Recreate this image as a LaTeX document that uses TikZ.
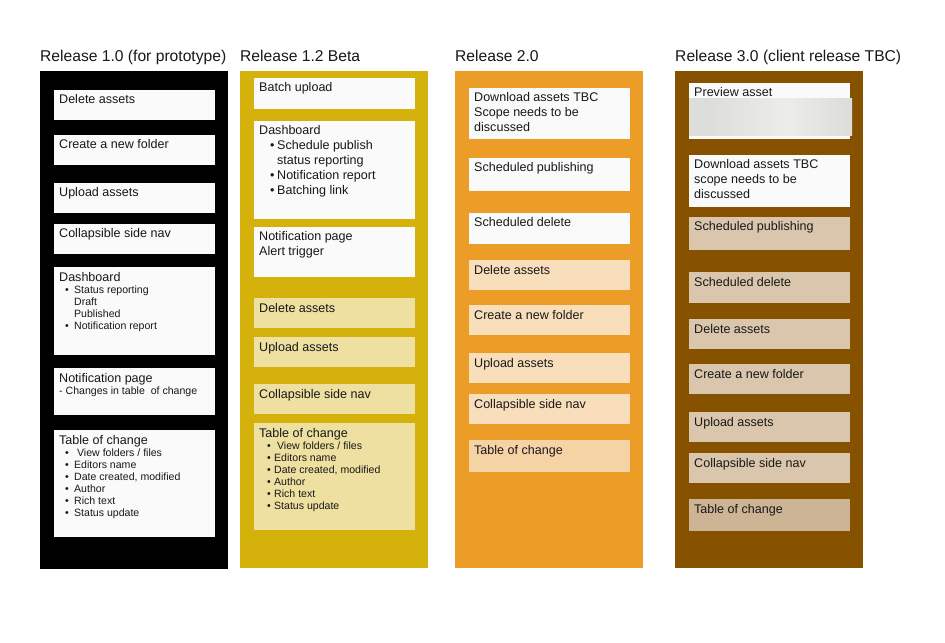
\documentclass[tikz,border=0pt]{standalone}
\usepackage{fontspec}
\setmainfont{Liberation Sans}
\definecolor{cardw}{HTML}{FAFAFA}
\definecolor{goldc}{HTML}{D5B10C}
\definecolor{goldl}{HTML}{EEE0A0}
\definecolor{orangec}{HTML}{EC9D28}
\definecolor{orangel}{HTML}{F8DEBB}
\definecolor{oranged}{HTML}{F6D3A5}
\definecolor{brownc}{HTML}{875200}
\definecolor{brownl}{HTML}{D9C6AD}
\definecolor{brownd}{HTML}{CDB495}
\definecolor{inkc}{HTML}{181818}
\definecolor{blurA}{HTML}{C9BCA9}
\definecolor{blurB}{HTML}{E7E6E3}
\definecolor{blurC}{HTML}{DCDCDB}
\definecolor{blurD}{HTML}{ECECEB}
\definecolor{blurE}{HTML}{C7B49C}
\pgfdeclarehorizontalshading{blurshade}{100bp}{color(0bp)=(blurA); color(5bp)=(blurB); color(30bp)=(blurC); color(55bp)=(blurD); color(75bp)=(blurC); color(93bp)=(blurB); color(100bp)=(blurE)}
\newcommand\cardf{\fontsize{12.6}{15}\selectfont}
\newcommand\itemf{\fontsize{10.6}{12.2}\selectfont}
\newcommand\bul[1]{\hspace*{6bp}\makebox[9bp][l]{\textbullet}#1}
\newcommand\bulb[1]{\hspace*{11bp}\makebox[7bp][l]{\textbullet}#1}
\newcommand\bulc[1]{\hspace*{8bp}\makebox[7bp][l]{\textbullet}#1}
\tikzset{
  colbox/.style={anchor=north west, inner sep=0, minimum width=188bp},
  cardbox/.style={anchor=north west, inner sep=0, minimum width=161bp},
  lbl/.style={anchor=base west, inner sep=0, text=inkc, font=\cardf},
  ttl/.style={anchor=base west, inner sep=0, text=inkc, font=\fontsize{15.7}{18}\selectfont}
}
\newcommand\card[6]{%
  \node[cardbox, fill=#5, minimum height={#4bp-#3bp}] (#1) at (#2,-#3) {};
  \node[lbl] (#1t) at ([xshift=5bp,yshift=-14bp]#1.north west) {\parbox[t]{155bp}{#6}};}
\begin{document}
\begin{tikzpicture}[x=1bp,y=1bp]
\useasboundingbox[fill=white] (0,0) rectangle (945,-643);
% titles
\node[ttl] (t1) at (40,-62) {Release 1.0 (for prototype)};
\node[ttl] (t2) at (240,-62) {Release 1.2 Beta};
\node[ttl] (t3) at (455,-62) {Release 2.0};
\node[ttl] (t4) at (675,-62) {Release 3.0 (client release TBC)};
% columns
\node[colbox, fill=black, minimum height=498bp] (k1) at (40,-71) {};
\node[colbox, fill=goldc, minimum height=497bp] (k2) at (240,-71) {};
\node[colbox, fill=orangec, minimum height=497bp] (k3) at (455,-71) {};
\node[colbox, fill=brownc, minimum height=497bp] (k4) at (675,-71) {};
% column 1
\card{a1}{54}{90}{120}{cardw}{Delete assets}
\card{a2}{54}{135}{165}{cardw}{Create a new folder}
\card{a3}{54}{183}{213}{cardw}{Upload assets}
\card{a4}{54}{224}{254}{cardw}{Collapsible side nav}
\card{a5}{54}{267}{355}{cardw}{Dashboard\par{\itemf\bul{Status reporting}\par\hspace*{15bp}Draft\par\hspace*{15bp}Published\par\bul{Notification report}\par}}
\card{a6}{54}{368}{415}{cardw}{Notification page\par{\itemf - Changes in table~ of change\par}}
\card{a7}{54}{430}{537}{cardw}{Table of change\par{\itemf\bul{\ View folders / files}\par\bul{Editors name}\par\bul{Date created, modified}\par\bul{Author}\par\bul{Rich text}\par\bul{Status update}\par}}
% column 2
\card{b1}{254}{78}{109}{cardw}{Batch upload}
\card{b2}{254}{121}{219}{cardw}{Dashboard\par\bulb{Schedule publish}\par\hspace*{18bp}status reporting\par\bulb{Notification report}\par\bulb{Batching link}}
\card{b3}{254}{227}{277}{cardw}{Notification page\par Alert trigger}
\card{b4}{254}{298}{328}{goldl}{Delete assets}
\card{b5}{254}{337}{367}{goldl}{Upload assets}
\card{b6}{254}{384}{414}{goldl}{Collapsible side nav}
\card{b7}{254}{423}{530}{goldl}{Table of change\par{\itemf\bulc{\ View folders / files}\par\bulc{Editors name}\par\bulc{Date created, modified}\par\bulc{Author}\par\bulc{Rich text}\par\bulc{Status update}\par}}
% column 3
\card{c1}{469}{88}{139}{cardw}{Download assets TBC\par Scope needs to be\par discussed}
\card{c2}{469}{158}{191}{cardw}{Scheduled publishing}
\card{c3}{469}{213}{244}{cardw}{Scheduled delete}
\card{c4}{469}{260}{290}{orangel}{Delete assets}
\card{c5}{469}{305}{335}{orangel}{Create a new folder}
\card{c6}{469}{353}{383}{orangel}{Upload assets}
\card{c7}{469}{394}{424}{orangel}{Collapsible side nav}
\card{c8}{469}{440}{472}{oranged}{Table of change}
% column 4
\card{d1}{689}{83}{139}{cardw}{Preview asset}
\node[anchor=north west, inner sep=0, minimum width=163bp, minimum height=37bp,
  shading=blurshade] (blur) at (689,-98) {};
\card{d2}{689}{155}{207}{cardw}{Download assets TBC\par scope needs to be\par discussed}
\card{d3}{689}{217}{250}{brownl}{Scheduled publishing}
\card{d4}{689}{272}{303}{brownl}{Scheduled delete}
\card{d5}{689}{319}{349}{brownl}{Delete assets}
\card{d6}{689}{364}{394}{brownl}{Create a new folder}
\card{d7}{689}{412}{442}{brownl}{Upload assets}
\card{d8}{689}{453}{483}{brownl}{Collapsible side nav}
\card{d9}{689}{499}{531}{brownd}{Table of change}
\end{tikzpicture}
\end{document}
